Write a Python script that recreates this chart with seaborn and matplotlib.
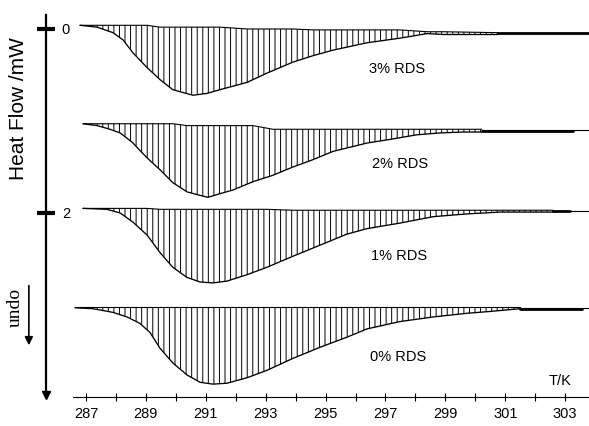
import numpy as np
import pandas as pd
import matplotlib
matplotlib.use("Agg")
import matplotlib.pyplot as plt
import seaborn as sns

# ---------------- data ----------------
samples = ["3% RDS", "2% RDS", "1% RDS", "0% RDS"]

T_3 = [286.80, 287.37, 287.90, 288.24, 288.57, 289.04, 289.47, 289.90, 290.57, 291.04, 291.47,
       292.38, 293.04, 293.91, 294.58, 295.25, 296.38, 297.48, 298.39, 298.92, 300.76]
flow_3 = [-0.04, -0.02, 0.04, 0.12, 0.26, 0.42, 0.55, 0.66, 0.72, 0.70, 0.66,
          0.58, 0.48, 0.36, 0.29, 0.23, 0.15, 0.10, 0.05, 0.06, 0.06]
base_3 = [-0.04, -0.04, -0.04, -0.04, -0.04, -0.04, -0.02, -0.02, -0.02, -0.02, -0.02,
          0.00, 0.00, 0.00, 0.01, 0.01, 0.01, 0.01, 0.03, 0.03, 0.04]

T_2 = [286.90, 287.37, 287.80, 288.14, 288.54, 288.80, 289.07, 289.47, 289.90, 290.37, 290.71,
       291.07, 291.47, 291.91, 292.57, 293.24, 293.91, 294.58, 295.25, 296.38, 297.15, 298.05,
       298.82, 299.59, 300.22]
flow_2 = [1.03, 1.05, 1.09, 1.13, 1.23, 1.32, 1.41, 1.53, 1.67, 1.77, 1.80,
          1.83, 1.79, 1.75, 1.66, 1.59, 1.50, 1.42, 1.33, 1.24, 1.20, 1.15,
          1.13, 1.12, 1.12]
base_2 = [1.03, 1.03, 1.03, 1.03, 1.03, 1.03, 1.03, 1.03, 1.03, 1.05, 1.05,
          1.05, 1.05, 1.05, 1.05, 1.09, 1.09, 1.09, 1.09, 1.09, 1.09, 1.09,
          1.09, 1.09, 1.09]

T_1 = [286.90, 287.70, 288.14, 288.57, 289.04, 289.47, 289.90, 290.37, 290.81, 291.24, 291.71,
       292.38, 293.04, 293.91, 294.81, 295.71, 296.38, 297.48, 298.59, 299.72, 300.82, 302.59]
flow_1 = [1.95, 1.96, 2.00, 2.10, 2.24, 2.43, 2.59, 2.70, 2.75, 2.76, 2.74,
          2.67, 2.59, 2.47, 2.35, 2.23, 2.17, 2.11, 2.04, 2.01, 1.99, 1.99]
base_1 = [1.95, 1.95, 1.95, 1.95, 1.95, 1.96, 1.96, 1.96, 1.96, 1.96, 1.96,
          1.96, 1.96, 1.97, 1.97, 1.97, 1.97, 1.97, 1.97, 1.97, 1.97, 1.97]

T_0 = [286.63, 287.23, 287.90, 288.37, 288.80, 289.14, 289.47, 289.90, 290.37, 290.81, 291.24,
       291.71, 292.38, 293.04, 293.91, 294.81, 295.71, 296.38, 297.48, 298.59, 299.72, 300.49,
       301.49]
flow_0 = [3.03, 3.04, 3.08, 3.13, 3.20, 3.30, 3.47, 3.63, 3.76, 3.84, 3.86,
          3.85, 3.79, 3.71, 3.58, 3.46, 3.35, 3.26, 3.18, 3.13, 3.09, 3.07,
          3.04]
base_0 = [3.025] * len(T_0)

# flat baseline after each peak: (start T, end T, level)
tail_start = [300.76, 300.22, 302.59, 301.49]
tail_end = [303.80, 303.26, 303.16, 303.56]
tail_level = [0.04, 1.11, 1.98, 3.04]
thin_level = [0.04, 1.10, 1.98, 3.035]

label_T = [297.38, 297.48, 297.45, 297.41]
label_flow = [0.435, 1.467, 2.467, 3.565]

x_ticks_major = [287, 289, 291, 293, 295, 297, 299, 301, 303]
x_ticks_minor = [288, 290, 292, 294, 296, 298, 300, 302]
y_ticks = [0, 2]

T_all = [T_3, T_2, T_1, T_0]
flow_all = [flow_3, flow_2, flow_1, flow_0]
base_all = [base_3, base_2, base_1, base_0]

# ---------------- figure ----------------
sns.set_theme(style="white", rc={"text.color": "black", "axes.labelcolor": "black",
                                 "xtick.color": "black", "ytick.color": "black",
                                 "axes.edgecolor": "black"})
plt.rcParams["font.family"] = ["Liberation Sans", "DejaVu Sans"]
plt.rcParams["hatch.linewidth"] = 0.7

fig = plt.figure(figsize=(5.89, 4.26), dpi=100)
ax = fig.add_axes([0, 0, 1, 1])
ax.set_xlim(284.128, 303.795)
ax.set_ylim(4.315, -0.315)

rows = []
for s, T, f in zip(samples, T_all, flow_all):
    for t, v in zip(T, f):
        rows.append({"T": t, "flow": v, "sample": s})
df = pd.DataFrame(rows)

for s, T, f, b in zip(samples, T_all, flow_all, base_all):
    ax.fill_between(T, b, f, facecolor="none", edgecolor="black",
                    hatch="|||", linewidth=0)
    ax.plot(T, b, color="black", lw=0.8)

sns.lineplot(data=df, x="T", y="flow", units="sample", estimator=None,
             color="black", lw=0.95, ax=ax, legend=False)

for T, ts, te, tl, thl in zip(T_all, tail_start, tail_end, tail_level, thin_level):
    ax.plot([ts, 303.795], [thl, thl], color="black", lw=0.8)
    ax.plot([ts, te], [tl, tl], color="black", lw=2.0)

for s, lt, lf in zip(samples, label_T, label_flow):
    ax.text(lt, lf, s, fontsize=10.5, ha="center", va="center", color="black")

ax.text(302.83, 3.826, "T/K", fontsize=10.5, ha="center", va="center", color="black")

# axes styling
ax.spines["top"].set_visible(False)
ax.spines["right"].set_visible(False)
ax.spines["left"].set_position(("data", 285.66))
ax.spines["left"].set_bounds(-0.15, 4.0)
ax.spines["left"].set_linewidth(1.6)
ax.spines["left"].set_color("black")
ax.spines["bottom"].set_position(("data", 4.0))
ax.spines["bottom"].set_bounds(286.57, 303.8)
ax.spines["bottom"].set_linewidth(0.8)
ax.spines["bottom"].set_color("black")

ax.set_xticks(x_ticks_major)
ax.set_xticks(x_ticks_minor, minor=True)
ax.set_xticklabels([str(v) for v in x_ticks_major])
ax.tick_params(axis="x", which="both", direction="inout", length=6, width=0.8,
               color="black", labelcolor="black", labelsize=10.5, pad=4, bottom=True)
ax.set_yticks(y_ticks)
ax.set_yticklabels([str(v) for v in y_ticks])
ax.tick_params(axis="y", direction="inout", length=13, width=3, color="black",
               labelcolor="black", labelsize=10.5, pad=-18, left=True)
for lbl in ax.get_yticklabels():
    lbl.set_horizontalalignment("left")
ax.set_xlabel("")
ax.set_ylabel("Heat Flow /mW", fontsize=15, color="black")
ax.yaxis.set_label_coords(0.047, 0.746)

# arrow head of the vertical axis
ax.plot([285.66], [3.975], marker="v", color="black", markersize=6)

# "undo" direction indicator
ax.text(0.026, 0.279, "undo", transform=ax.transAxes, rotation=90,
        family=["Liberation Serif", "DejaVu Serif"], fontsize=14,
        ha="center", va="center", color="black")
ax.annotate("", xy=(0.049, 0.183), xytext=(0.049, 0.336), xycoords="axes fraction",
            arrowprops=dict(arrowstyle="-|>", color="black", lw=1.2,
                            mutation_scale=12))

ax.grid(False)
fig.savefig("out.png", dpi=100)
